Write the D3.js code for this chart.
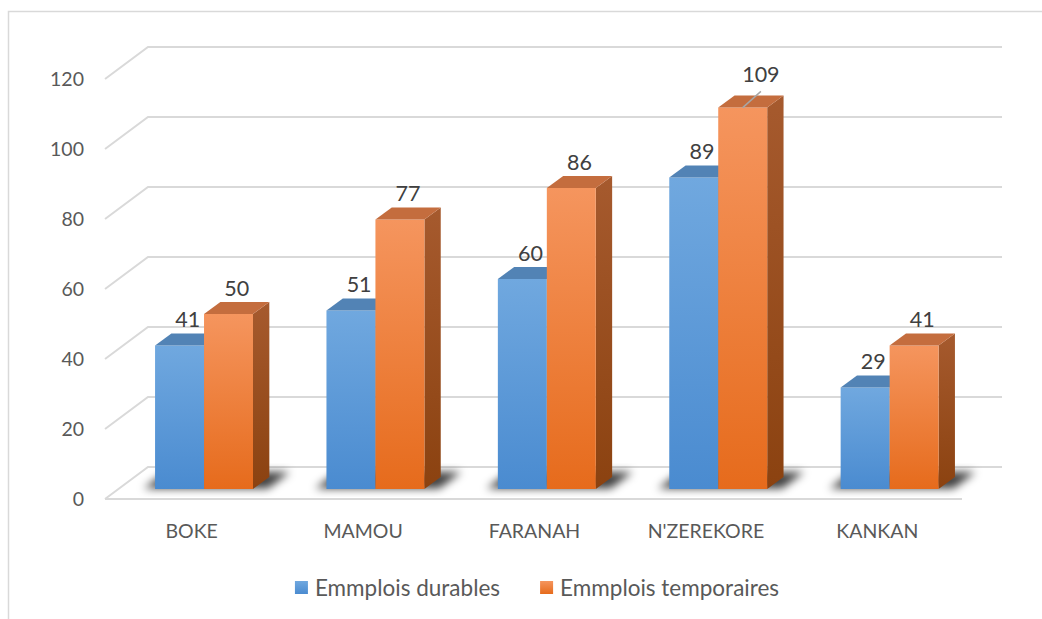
<!DOCTYPE html>
<html>
<head>
<meta charset="utf-8">
<script src="https://cdn.jsdelivr.net/npm/d3@7"></script>
<style>
  body { margin: 0; background: #fff; }
  svg { display: block; font-family: Lato, "Open Sans", sans-serif; }
</style>
</head>
<body>
<script>
// data
const categories = ["BOKE", "MAMOU", "FARANAH", "N'ZEREKORE", "KANKAN"];
const seriesNames = ["Emmplois durables", "Emmplois temporaires"];
const durables = [41, 51, 60, 89, 29];
const temporaires = [50, 77, 86, 109, 41];
const yTicks = [0, 20, 40, 60, 80, 100, 120];

const W = 1042, H = 619;
// oblique 3d projection: front-left corner of floor, depth vector
const FX0 = 105, FX1 = 962, FY = 499;
const DX = 43, DY = 32;
const D0 = 0.31, D1 = 0.69;   // bar depth range

const svg = d3.select("body").append("svg").attr("width", W).attr("height", H);
const defs = svg.append("defs");

function grad(id, stops) {
  const g = defs.append("linearGradient").attr("id", id)
    .attr("x1", 0).attr("y1", 0).attr("x2", 0).attr("y2", 1);
  stops.forEach((c, i) => g.append("stop").attr("offset", i / (stops.length - 1)).attr("stop-color", c));
}
grad("blueFront", ["#70a8df", "#4a8bd0"]);
grad("orangeFront", ["#f5955e", "#e66b1c"]);
grad("orangeSide", ["#a65a2e", "#8b4210"]);
grad("blueSide", ["#3f6fa0", "#30598a"]);
defs.append("filter").attr("id", "blur").attr("x", -0.5).attr("y", -0.5).attr("width", 2).attr("height", 2)
  .append("feGaussianBlur").attr("stdDeviation", 4);

const colors = [
  { front: "url(#blueFront)", top: "#5283b5", side: "url(#blueSide)" },
  { front: "url(#orangeFront)", top: "#c46d3e", side: "url(#orangeSide)" }
];

const x = d3.scaleBand().domain(categories).range([FX0, FX1]).padding(0);
const xs = d3.scaleBand().domain(seriesNames).range([0, x.bandwidth()]).paddingInner(0).paddingOuter(0.75);
const y = d3.scaleLinear().domain([0, 120]).range([0, 420]);

const proj = (px, h, d) => [px + DX * d, FY - h - DY * d];
const pts = arr => arr.map(p => p.join(",")).join(" ");

// chart border
svg.append("rect").attr("x", 8.5).attr("y", 11.5).attr("width", 1060).attr("height", 640)
  .attr("fill", "none").attr("stroke", "#d9d9d9").attr("stroke-width", 1.5);

// gridlines (side wall + back wall)
const grid = svg.append("g").attr("stroke", "#d9d9d9").attr("stroke-width", 2).attr("fill", "none");
yTicks.forEach(t => {
  const a = proj(FX0, y(t), 0), b = proj(FX0, y(t), 1), c = [1002, b[1]];
  grid.append("polyline").attr("points", pts([a, b, c]));
});
// floor front edge
grid.append("line").attr("x1", FX0).attr("y1", FY).attr("x2", FX1).attr("y2", FY);

// tick labels
svg.append("g").selectAll("text").data(yTicks).join("text")
  .attr("x", FX0 - 21).attr("y", t => proj(FX0, y(t), 0)[1]).attr("dy", "0.35em")
  .attr("text-anchor", "end").attr("font-size", 19.5).attr("fill", "#595959")
  .text(d => d);

// shadows on floor
const shadowG = svg.append("g").attr("filter", "url(#blur)");
categories.forEach(c => {
  const l = x(c) + xs(seriesNames[0]) - 12, r = x(c) + xs(seriesNames[1]) + xs.bandwidth() + 14;
  shadowG.append("polygon")
    .attr("points", pts([proj(l, 0, D0 + 0.02), proj(r, 0, D0 + 0.02), proj(r, 0, D1 + 0.15), proj(l, 0, D1 + 0.15)]))
    .attr("fill", "#000").attr("opacity", 0.75);
});

// bars
const values = [durables, temporaires];
const barsG = svg.append("g");
const labels = [];
categories.forEach((c, ci) => {
  seriesNames.forEach((s, si) => {
    const v = values[si][ci];
    const x0 = x(c) + xs(s), x1 = x0 + xs.bandwidth(), h = y(v);
    const col = colors[si];
    barsG.append("polygon").attr("fill", col.side)
      .attr("points", pts([proj(x1, 0, D0), proj(x1, h, D0), proj(x1, h, D1), proj(x1, 0, D1)]));
    barsG.append("polygon").attr("fill", col.front)
      .attr("points", pts([proj(x0, 0, D0), proj(x1, 0, D0), proj(x1, h, D0), proj(x0, h, D0)]));
    barsG.append("polygon").attr("fill", col.top)
      .attr("points", pts([proj(x0, h, D0), proj(x1, h, D0), proj(x1, h, D1), proj(x0, h, D1)]));
    labels.push({ v, cx: (x0 + x1) / 2, h, ci, si });
  });
});

// data labels; the tallest one is pushed up with a leader line
const maxV = d3.max(temporaires);
const lbl = svg.append("g").attr("font-size", 21.5).attr("fill", "#404040").attr("text-anchor", "middle");
labels.forEach(d => {
  const topMid = proj(d.cx, d.h, (D0 + D1) / 2);
  let tx = topMid[0], ty = proj(d.cx, d.h, D1)[1] - 6;
  if (d.v === maxV) {
    const f = proj(d.cx, d.h, D0);
    tx += 10; ty -= 7;
    lbl.append("line").attr("x1", f[0]).attr("y1", f[1]).attr("x2", tx).attr("y2", ty + 9)
      .attr("stroke", "#a6a6a6").attr("stroke-width", 1.5);
  }
  lbl.append("text").attr("x", tx).attr("y", ty).text(d.v);
});

// category labels
svg.append("g").selectAll("text").data(categories).join("text")
  .attr("x", c => x(c) + x.bandwidth() / 2 + 1).attr("y", 531).attr("dy", "0.35em")
  .attr("text-anchor", "middle").attr("font-size", 19.5).attr("fill", "#595959")
  .text(d => d);

// legend
const leg = svg.append("g");
const items = leg.selectAll("g").data(seriesNames).join("g");
items.append("rect").attr("width", 13).attr("height", 13).attr("y", -7)
  .attr("fill", (d, i) => colors[i].front);
items.append("text").attr("x", 20).attr("dy", "0.35em").attr("font-size", 22.5).attr("fill", "#595959").text(d => d);
const gap = 40;
let cur = 0;
const offs = [];
items.each(function () {
  offs.push(cur);
  cur += this.getBBox().width + gap;
});
const total = cur - gap;
const start = 537 - total / 2;
items.attr("transform", (d, i) => `translate(${start + offs[i]},588)`);
</script>
</body>
</html>
